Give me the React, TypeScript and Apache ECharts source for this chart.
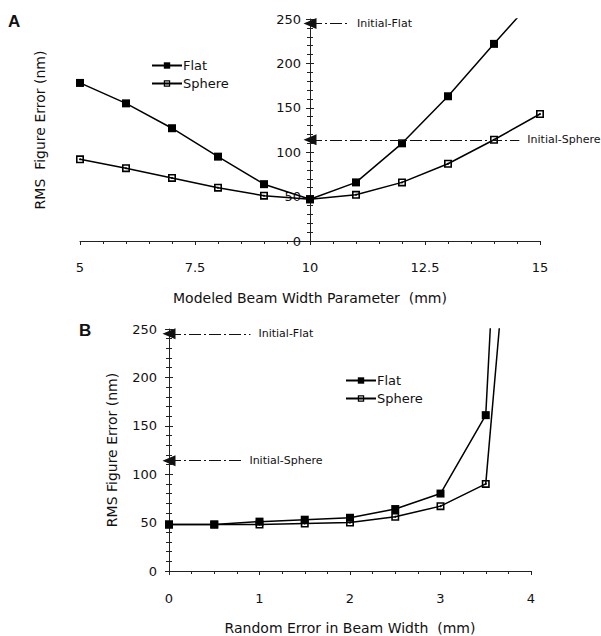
import React, { useEffect, useRef } from "react";
import * as echarts from "echarts";

// Panel A: modeled beam width parameter (mm)
const aX = [5, 6, 7, 8, 9, 10, 11, 12, 13, 14, 15];
const aFlat = [178, 155, 127, 95, 64, 47, 66, 110, 163, 222, 280];
const aSphere = [92, 82, 71, 60, 51, 47, 52, 66, 87, 114, 143];
const aXTicks = [5, 7.5, 10, 12.5, 15];

// Panel B: random error in beam width (mm)
const bFlatX = [0, 0.5, 1, 1.5, 2, 2.5, 3, 3.5, 3.6];
const bFlat = [48, 48, 51, 53, 55, 64, 80, 161, 340];
const bSphereX = [0, 0.5, 1, 1.5, 2, 2.5, 3, 3.5, 3.7];
const bSphere = [48, 48, 48, 49, 50, 56, 67, 90, 305];
const bXTicks = [0, 1, 2, 3, 4];

// Initial values (arrows)
const initialFlat = 245;
const initialSphere = 114;
const aInitFlatEnd = 10.85;
const aInitSphereEnd = 14.55;
const bInitFlatEnd = 0.9;
const bInitSphereEnd = 0.8;

const yTicks = [0, 50, 100, 150, 200, 250];

const FONT = "DejaVu Sans";
const SPHERE_SYMBOL =
  "path://M0 0H10V10H0Z M2 2V8H8V2Z M5 3.4L6.6 5L5 6.6L3.4 5Z";

const zip = (xs: number[], ys: number[]) => xs.map((x, i) => [x, ys[i]]);

export default function App() {
  const ref = useRef<HTMLDivElement>(null);
  useEffect(() => {
    if (!ref.current) return;
    const chart = echarts.init(ref.current, undefined, { renderer: "svg" });
    const tickLabel = { color: "#111", fontFamily: FONT, fontSize: 13 };
    const nameStyle = { color: "#111", fontFamily: FONT, fontSize: 14 };
    const ls = () => ({ color: "#222", width: 1 });
    const mlLabel = (txt: string) => ({
      show: true,
      position: "end",
      distance: 8,
      formatter: txt,
      color: "#111",
      fontFamily: FONT,
      fontSize: 11,
    });
    const mlStyle = { color: "#111", width: 1, type: [12, 3, 2, 3] };

    // label-only axis
    const labelAxis = (extra: any) => ({
      type: "value",
      splitLine: { show: false },
      axisLine: { show: false, onZero: false },
      axisTick: { show: false },
      minorTick: { show: false },
      ...extra,
    });
    // structure-only axis (line + ticks)
    const lineAxis = (extra: any, split: number, inside: boolean, showLine: boolean) => ({
      type: "value",
      splitLine: { show: false },
      axisLine: { show: showLine, onZero: false, lineStyle: ls() },
      axisTick: { show: true, inside, length: 4, lineStyle: ls() },
      minorTick: { show: true, splitNumber: split, length: 3, lineStyle: ls() },
      axisLabel: { show: false },
      ...extra,
    });
    const aXRange = { min: aXTicks[0], max: aXTicks[aXTicks.length - 1], interval: 2.5 };
    const bXRange = { min: bXTicks[0], max: bXTicks[bXTicks.length - 1], interval: 1 };
    const yRange = { min: yTicks[0], max: yTicks[yTicks.length - 1], interval: 50 };

    const option: any = {
      animation: false,
      backgroundColor: "#fff",
      grid: [
        { left: 80, top: 19, width: 460, height: 222 },
        { left: 169, top: 329, width: 362, height: 248 },
      ],
      xAxis: [
        labelAxis({
          gridIndex: 0,
          ...aXRange,
          name: "Modeled Beam Width Parameter  (mm)",
          nameLocation: "middle",
          nameGap: 50,
          nameTextStyle: nameStyle,
          axisLabel: { ...tickLabel, margin: 20 },
        }),
        labelAxis({
          gridIndex: 1,
          ...bXRange,
          name: "Random Error in Beam Width  (mm)",
          nameLocation: "middle",
          nameGap: 50,
          nameTextStyle: nameStyle,
          axisLabel: { ...tickLabel, margin: 21 },
        }),
        lineAxis({ gridIndex: 0, position: "bottom", ...aXRange }, 5, false, true),
        lineAxis({ gridIndex: 1, position: "bottom", ...bXRange }, 4, false, true),
      ],
      yAxis: [
        labelAxis({
          gridIndex: 0,
          position: "left",
          offset: -230,
          ...yRange,
          name: "RMS  Figure Error (nm)",
          nameLocation: "middle",
          nameGap: 263,
          nameTextStyle: nameStyle,
          axisLabel: { ...tickLabel, margin: 9 },
        }),
        labelAxis({
          gridIndex: 1,
          position: "left",
          ...yRange,
          name: "RMS Figure Error (nm)",
          nameLocation: "middle",
          nameGap: 50,
          nameTextStyle: nameStyle,
          axisLabel: { ...tickLabel, margin: 12 },
        }),
        lineAxis({ gridIndex: 0, position: "left", offset: -230, ...yRange }, 5, false, true),
        lineAxis({ gridIndex: 1, position: "left", ...yRange }, 5, false, true),
        lineAxis({ gridIndex: 0, position: "left", offset: -230, ...yRange }, 5, true, false),
        lineAxis({ gridIndex: 1, position: "left", ...yRange }, 5, true, false),
      ],
      legend: [
        {
          data: ["Flat", "Sphere"],
          orient: "vertical",
          left: 146,
          top: 54,
          itemGap: 5,
          itemWidth: 30,
          itemHeight: 8,
          textStyle: { color: "#111", fontFamily: FONT, fontSize: 13, padding: [0, 0, 0, -4] },
          selectedMode: false,
        },
        {
          data: ["Flat", "Sphere"],
          orient: "vertical",
          left: 340,
          top: 369,
          itemGap: 5,
          itemWidth: 30,
          itemHeight: 8,
          textStyle: { color: "#111", fontFamily: FONT, fontSize: 13, padding: [0, 0, 0, -4] },
          selectedMode: false,
        },
      ],
      graphic: [
        {
          type: "text",
          left: 8,
          top: 13,
          style: { text: "A", font: "bold 17px Liberation Sans", fill: "#111" },
        },
        {
          type: "text",
          left: 79,
          top: 322,
          style: { text: "B", font: "bold 17px Liberation Sans", fill: "#111" },
        },
      ],
      series: [
        {
          name: "Flat",
          type: "line",
          xAxisIndex: 0,
          yAxisIndex: 0,
          data: zip(aX, aFlat),
          symbol: "rect",
          symbolSize: 8,
          itemStyle: { color: "#000" },
          lineStyle: { color: "#000", width: 1.5 },
          markLine: {
            silent: true,
            symbol: ["triangle", "none"],
            symbolSize: [11, 13],
            lineStyle: mlStyle,
            data: [
              [
                { coord: [10, initialFlat], label: mlLabel("Initial-Flat") },
                { coord: [aInitFlatEnd, initialFlat] },
              ],
              [
                { coord: [10, initialSphere], label: mlLabel("Initial-Sphere") },
                { coord: [aInitSphereEnd, initialSphere] },
              ],
            ],
          },
        },
        {
          name: "Sphere",
          type: "line",
          xAxisIndex: 0,
          yAxisIndex: 0,
          data: zip(aX, aSphere),
          symbol: SPHERE_SYMBOL,
          symbolSize: 8,
          itemStyle: { color: "#000" },
          lineStyle: { color: "#000", width: 1.5 },
        },
        {
          name: "Flat",
          type: "line",
          xAxisIndex: 1,
          yAxisIndex: 1,
          data: zip(bFlatX, bFlat),
          symbol: "rect",
          symbolSize: 8,
          itemStyle: { color: "#000" },
          lineStyle: { color: "#000", width: 1.5 },
          markLine: {
            silent: true,
            symbol: ["triangle", "none"],
            symbolSize: [11, 13],
            lineStyle: mlStyle,
            data: [
              [
                { coord: [0, initialFlat], label: mlLabel("Initial-Flat") },
                { coord: [bInitFlatEnd, initialFlat] },
              ],
              [
                { coord: [0, initialSphere], label: mlLabel("Initial-Sphere") },
                { coord: [bInitSphereEnd, initialSphere] },
              ],
            ],
          },
        },
        {
          name: "Sphere",
          type: "line",
          xAxisIndex: 1,
          yAxisIndex: 1,
          data: zip(bSphereX, bSphere),
          symbol: SPHERE_SYMBOL,
          symbolSize: 8,
          itemStyle: { color: "#000" },
          lineStyle: { color: "#000", width: 1.5 },
        },
      ],
    };
    chart.setOption(option);
    return () => chart.dispose();
  }, []);
  return (
    <div
      ref={ref}
      style={{ position: "fixed", left: 0, top: 0, width: 601, height: 636, background: "#fff" }}
    />
  );
}
